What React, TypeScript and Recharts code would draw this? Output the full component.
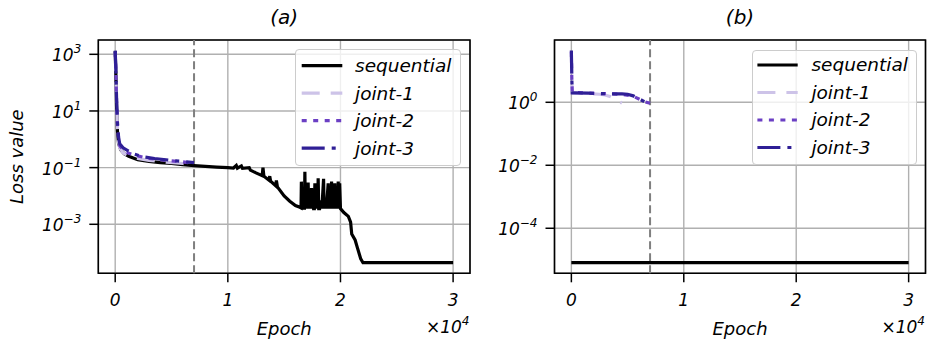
import React from 'react';
import { LineChart, Line, XAxis, YAxis, CartesianGrid, ReferenceLine, ReferenceArea, Legend } from 'recharts';

const FONT = '"DejaVu Sans", sans-serif';

// ---------- data ----------
const xTicks = [0, 10000, 20000, 30000];
const yTicksA = [1e-3, 1e-1, 1e1, 1e3];
const yTicksB = [1e-4, 1e-2, 1e0];
const splitEpoch = 7000;
const xDomain = [-1500, 31500];
const yDomainA = [1.862e-5, 3199];
const yDomainB = [3.715e-6, 95.06];

const seriesNames = ['sequential', 'joint-1', 'joint-2', 'joint-3'];
const seriesColors = ['#000000', '#cdc3e8', '#6b3fc4', '#2f1f96'];
const seriesDashes = [undefined, '18 11', '5 6.5', '23 7 4 7'];

// panel (a)
const seqAEpoch = [0, 60, 120, 200, 300, 500, 800, 1200, 2000, 3000, 4000, 5000, 6000, 7000, 8000, 9000, 10000,
  10500, 10750, 10850, 11200, 11300, 11900, 12000, 12500, 13050, 13120, 13200, 13650, 13720, 13800, 14250, 14310, 14400,
  15000, 15500, 16000, 16400, 16500, 16530, 16570, 16650, 16720, 16800, 16840, 16880, 16960, 17040, 17130, 17180,
  17260, 17340, 17430, 17480, 17570, 17620, 17680, 17730, 17780, 17900, 17970, 18020, 18070, 18150, 18250, 18350,
  18500, 18550, 18650, 18750, 18910, 18960, 19050, 19150, 19210, 19260, 19350, 19450, 19500, 19550, 19650, 19750,
  19800, 19850, 19930, 20000, 20300, 20700, 20900, 21000, 21300, 21500, 21800, 22000, 30000];
const seqALoss = [1300, 200, 15, 2.0, 0.7, 0.42, 0.31, 0.25, 0.19, 0.165, 0.15, 0.14, 0.128, 0.118, 0.11, 0.104, 0.1,
  0.097, 0.12, 0.096, 0.115, 0.094, 0.1, 0.082, 0.065, 0.052, 0.1, 0.05, 0.036, 0.05, 0.033, 0.023, 0.035, 0.021,
  0.01, 0.0065, 0.0046, 0.004, 0.0038, 0.032, 0.0038, 0.006, 0.0037, 0.0037, 0.072, 0.0037, 0.006, 0.0036, 0.03, 0.0036,
  0.006, 0.0036, 0.019, 0.0036, 0.014, 0.0036, 0.0036, 0.028, 0.0036, 0.006, 0.0036, 0.042, 0.0036, 0.0036, 0.007, 0.0036,
  0.04, 0.0036, 0.007, 0.0036, 0.028, 0.0036, 0.007, 0.0036, 0.032, 0.0036, 0.007, 0.0036, 0.028, 0.0036, 0.007, 0.0036,
  0.032, 0.0036, 0.028, 0.0036, 0.0026, 0.0019, 0.0012, 0.00045, 0.00028, 0.00015, 0.00006, 0.000044, 0.000044];

const j1AEpoch = [0, 60, 120, 200, 300, 400, 700, 1200, 2000, 3000, 4500, 6000, 7000];
const j1ALoss = [1100, 200, 20, 2.5, 0.8, 0.5, 0.33, 0.26, 0.21, 0.18, 0.155, 0.14, 0.13];
const j2AEpoch = [0, 60, 120, 200, 300, 400, 700, 1200, 2000, 3000, 4500, 6000, 7000];
const j2ALoss = [1200, 250, 25, 3, 1.0, 0.6, 0.42, 0.32, 0.26, 0.21, 0.18, 0.16, 0.14];
const j3AEpoch = [0, 60, 120, 200, 300, 400, 700, 1200, 1700, 2500, 3500, 5000, 6000, 7000];
const j3ALoss = [1350, 300, 30, 4, 1.2, 0.7, 0.5, 0.38, 0.3, 0.24, 0.21, 0.18, 0.165, 0.15];

// panel (b)
const seqBEpoch = [0, 30000];
const seqBLoss = [8.1e-6, 8.1e-6];
const j1BEpoch = [0, 40, 80, 1500, 2500, 3000, 3500, 4000, 4500];
const j1BLoss = [30, 5, 2.0, 1.9, 1.8, 1.7, 1.5, 1.15, 0.95];
const j2BEpoch = [0, 40, 80, 1500, 2500, 3500, 4500, 5500, 6500, 7000];
const j2BLoss = [40, 6, 2.1, 1.95, 1.9, 1.85, 1.8, 1.55, 1.05, 0.93];
const j3BEpoch = [0, 40, 80, 1500, 2500, 3500, 4500, 5000, 5500, 6000, 6500, 7000];
const j3BLoss = [44, 6, 2.0, 1.95, 1.9, 1.85, 1.85, 1.8, 1.6, 1.3, 1.05, 0.93];

const zip = (ep: number[], v: number[]) => ep.map((x, i) => ({ x, y: v[i] }));

const panelA = [zip(seqAEpoch, seqALoss), zip(j1AEpoch, j1ALoss), zip(j2AEpoch, j2ALoss), zip(j3AEpoch, j3ALoss)];
const panelB = [zip(seqBEpoch, seqBLoss), zip(j1BEpoch, j1BLoss), zip(j2BEpoch, j2BLoss), zip(j3BEpoch, j3BLoss)];

// ---------- components ----------
const XTick = (props: any) => {
  const { x, y, payload } = props;
  return (
    <text x={x} y={y} dy={23.7} textAnchor="middle" fontSize={17} fontStyle="italic" fontFamily={FONT} fill="#000">
      {payload.value / 10000}
    </text>
  );
};

const YTick = (props: any) => {
  const { x, y, payload } = props;
  const e = Math.round(Math.log10(payload.value));
  return (
    <text x={x} y={y} dy={7} textAnchor="end" fontSize={17} fontStyle="italic" fontFamily={FONT} fill="#000">
      10<tspan dy={-8} fontSize={12}>{e < 0 ? '\u2212' + -e : String(e)}</tspan>
    </text>
  );
};

const LegendBox = ({ w, h, lx1, lx2, tx, y0 }: any) => (
  <div style={{ width: w, height: h, boxSizing: 'border-box', border: '1px solid #cccccc', borderRadius: 4, background: 'rgba(255,255,255,0.8)' }}>
    <svg width={w - 2} height={h - 2} style={{ display: 'block' }}>
      {seriesNames.map((n, i) => {
        const cy = y0 + i * 27.5;
        return (
          <g key={n}>
            <line x1={lx1} x2={lx2} y1={cy} y2={cy} stroke={seriesColors[i]} strokeWidth={3.2} strokeDasharray={seriesDashes[i]} />
            <text x={tx} y={cy} dy={6.3} fontSize={18.5} fontStyle="italic" fontFamily={FONT} fill="#000">{n}</text>
          </g>
        );
      })}
    </svg>
  </div>
);

const Panel = ({ data, yDomain, yTicks, width, yAxisWidth, rightMargin, legendPos }: any) => (
  <LineChart width={width} height={343} margin={{ top: 40, right: rightMargin, bottom: 39.7, left: 0 }}>
    <CartesianGrid stroke="#b0b0b0" strokeWidth={1.4} />
    <XAxis dataKey="x" type="number" domain={xDomain} allowDataOverflow ticks={xTicks} interval={0}
      axisLine={false} tickLine={{ stroke: '#000', strokeWidth: 1.5 }} tickSize={9} tickMargin={0}
      tick={(p: any) => <XTick {...p} />} height={30} />
    <YAxis type="number" scale="log" domain={yDomain} allowDataOverflow ticks={yTicks} interval={0}
      axisLine={false} tickLine={{ stroke: '#000', strokeWidth: 1.5 }} tickSize={9} tickMargin={8}
      tick={(p: any) => <YTick {...p} />} width={yAxisWidth} />
    <ReferenceLine x={splitEpoch} stroke="#7f7f7f" strokeWidth={2} strokeDasharray="8 4" />
    {seriesNames.map((n, i) => (
      <Line key={n} data={data[i]} dataKey="y" name={n} type="linear" stroke={seriesColors[i]} strokeWidth={3.2}
        strokeDasharray={seriesDashes[i]} dot={false} activeDot={false} isAnimationActive={false} />
    ))}
    <ReferenceArea x1={xDomain[0]} x2={xDomain[1]} y1={yDomain[0]} y2={yDomain[1]} fill="none" stroke="#000"
      strokeWidth={1.6} ifOverflow="visible" />
    <Legend layout="horizontal" verticalAlign="middle" align="center"
      wrapperStyle={{ left: legendPos.left, top: legendPos.top, width: legendPos.w, height: legendPos.h }}
      content={() => <LegendBox {...legendPos} />} />
  </LineChart>
);

const txt = { fontFamily: FONT, fontStyle: 'italic', fill: '#000' } as const;

export default function App() {
  return (
    <div style={{ position: 'absolute', left: 0, top: 0, width: 927, height: 343, background: '#fff', overflow: 'hidden' }}>
      <div style={{ position: 'absolute', left: 0, top: 0 }}>
        <Panel data={panelA} yDomain={yDomainA} yTicks={yTicksA} width={472} yAxisWidth={98.3} rightMargin={2}
          legendPos={{ left: 295, top: 49, w: 166, h: 117, lx1: 5.7, lx2: 46.3, tx: 59, y0: 15.7 }} />
      </div>
      <div style={{ position: 'absolute', left: 470, top: 0 }}>
        <Panel data={panelB} yDomain={yDomainB} yTicks={yTicksB} width={457} yAxisWidth={84.5} rightMargin={1.5}
          legendPos={{ left: 282.3, top: 50, w: 165, h: 115, lx1: 4.4, lx2: 44.7, tx: 58.4, y0: 14 }} />
      </div>
      <svg width={927} height={343} style={{ position: 'absolute', left: 0, top: 0, pointerEvents: 'none' }}>
        <text x={284.2} y={24.4} textAnchor="middle" fontSize={20} {...txt}>(a)</text>
        <text x={740} y={24.4} textAnchor="middle" fontSize={20} {...txt}>(b)</text>
        <text transform="translate(23,156.7) rotate(-90)" textAnchor="middle" fontSize={18} {...txt}>Loss value</text>
        <text x={284.2} y={335} textAnchor="middle" fontSize={18} {...txt}>Epoch</text>
        <text x={740} y={335} textAnchor="middle" fontSize={18} {...txt}>Epoch</text>
        <text x={469.5} y={333} textAnchor="end" fontSize={17} {...txt}>{'\u00d710'}<tspan dy={-8} fontSize={12}>4</tspan></text>
        <text x={925} y={333} textAnchor="end" fontSize={17} {...txt}>{'\u00d710'}<tspan dy={-8} fontSize={12}>4</tspan></text>
      </svg>
    </div>
  );
}
